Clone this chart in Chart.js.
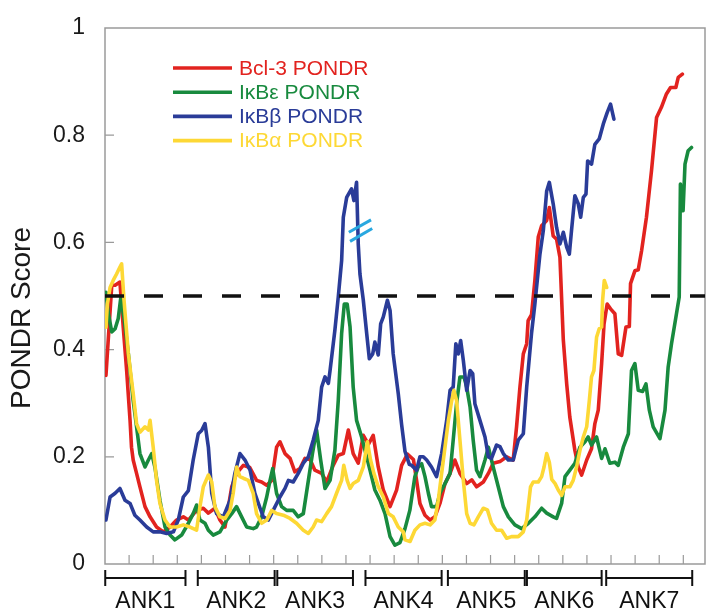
<!DOCTYPE html>
<html>
<head>
<meta charset="utf-8">
<script src="https://cdn.jsdelivr.net/npm/chart.js@4.4.1/dist/chart.umd.min.js"></script>
<style>
    html, body { margin: 0; padding: 0; background: #fff; }
    #wrap { width: 709px; height: 614px; }
</style>
</head>
<body>
<div id="wrap"><canvas id="pondrChart" width="709" height="614"></canvas></div>
<script>
// residue position (x) and PONDR score (y)
const bcl3 = [
    [0.4, 0.352], [2.8, 0.52], [4.2, 0.52], [6.2, 0.526], [7.6, 0.44], [9, 0.36], [10.4, 0.268], [11, 0.218],
    [11.7, 0.194], [13.1, 0.169], [14.5, 0.144], [16.6, 0.107], [18.7, 0.088], [21.4, 0.069], [24.2, 0.06],
    [27, 0.069], [29.7, 0.082], [32.5, 0.088], [34.6, 0.082], [38, 0.1], [40.8, 0.104], [42.9, 0.095],
    [45.6, 0.104], [47.7, 0.082], [49.8, 0.069], [52.6, 0.144], [54.6, 0.169], [57.4, 0.184], [60.1, 0.18],
    [62.9, 0.156], [65, 0.153], [67.1, 0.147], [69.2, 0.156], [71.2, 0.218], [72.6, 0.228], [74.7, 0.206],
    [76.8, 0.197], [78.8, 0.172], [80.9, 0.178], [83, 0.197], [85.1, 0.195], [87.1, 0.175], [89.9, 0.169],
    [92, 0.153], [94.7, 0.184], [96.8, 0.203], [98.9, 0.206], [101, 0.25], [103, 0.206], [105.1, 0.188],
    [107.2, 0.24], [109.3, 0.223], [111.3, 0.24], [113.4, 0.181], [115.5, 0.138], [118.3, 0.107], [121, 0.138],
    [123.1, 0.184], [125.5, 0.205], [128, 0.195], [129.3, 0.156], [130.7, 0.113], [132.8, 0.091], [134.9, 0.082],
    [136.9, 0.088], [139, 0.113], [141.1, 0.15], [143.2, 0.169], [145.2, 0.194], [147.3, 0.169], [150.1, 0.15],
    [152.2, 0.157], [154.2, 0.144], [157, 0.153], [159.1, 0.169], [161.1, 0.188], [163.9, 0.191], [166.7, 0.2],
    [169.4, 0.194], [170.8, 0.256], [172.2, 0.33], [173.6, 0.392], [175, 0.411], [175.6, 0.454], [177, 0.465],
    [178.4, 0.529], [179.8, 0.61], [181.2, 0.631], [183.3, 0.641], [184.4, 0.665], [186, 0.612], [187.4, 0.606],
    [188.8, 0.572], [190.2, 0.418], [191.6, 0.336], [192.9, 0.274], [195, 0.212], [196.4, 0.181], [197.8, 0.166],
    [199.9, 0.194], [201.9, 0.215], [203.3, 0.262], [204.7, 0.287], [206.1, 0.374], [207.1, 0.448], [208.4, 0.485],
    [209.8, 0.476], [211.6, 0.467], [213, 0.392], [214.4, 0.389], [216.2, 0.442], [217.6, 0.443], [218.1, 0.523],
    [219.9, 0.547], [221.3, 0.549], [222.7, 0.585], [224.7, 0.647], [226.8, 0.734], [228.9, 0.833], [230.9, 0.852],
    [233, 0.877], [234.7, 0.889], [236.9, 0.889], [237.9, 0.908], [239.6, 0.914]
];

const ikbEpsilon = [
    [0.4, 0.507], [1.4, 0.467], [2.8, 0.433], [4.2, 0.439], [5.5, 0.458], [6.5, 0.495], [7.9, 0.46], [9.7, 0.392],
    [11.7, 0.305], [13.1, 0.256], [14.5, 0.206], [16.6, 0.181], [18, 0.194], [19.4, 0.206], [20.7, 0.181],
    [22.8, 0.119], [24.9, 0.069], [27, 0.054], [29, 0.045], [31.8, 0.054], [34.6, 0.076], [36.6, 0.094],
    [38, 0.11], [39.4, 0.082], [41.5, 0.076], [42.9, 0.063], [44.9, 0.054], [47.7, 0.06], [50.5, 0.082],
    [52.6, 0.094], [54.6, 0.107], [56.7, 0.088], [58.8, 0.069], [61.5, 0.066], [62.9, 0.069], [65, 0.088],
    [67.1, 0.125], [68.5, 0.156], [69.6, 0.178], [71.2, 0.132], [73.3, 0.107], [75.4, 0.1], [78.1, 0.1],
    [80.2, 0.088], [82.3, 0.094], [84.4, 0.156], [86.1, 0.206], [87.8, 0.25], [89.5, 0.194], [91.3, 0.141],
    [93.4, 0.156], [95.4, 0.212], [96.8, 0.305], [98.2, 0.43], [99.3, 0.485], [100.5, 0.485], [101.7, 0.442],
    [103, 0.33], [104.4, 0.268], [106.5, 0.237], [107.9, 0.212], [110, 0.175], [112, 0.138], [114.1, 0.119],
    [116.2, 0.094], [118.3, 0.051], [120.3, 0.035], [122.4, 0.04], [124.5, 0.066], [126.5, 0.1], [128.6, 0.163],
    [130, 0.181], [131.4, 0.187], [132.8, 0.163], [134.2, 0.132], [135.5, 0.107], [137.6, 0.107], [139, 0.132],
    [141.1, 0.15], [143.2, 0.169], [144.5, 0.231], [145.9, 0.299], [147.3, 0.349], [149, 0.349], [150.1, 0.33],
    [151.5, 0.293], [152.8, 0.231], [154.2, 0.175], [155.6, 0.163], [157.7, 0.194], [159.1, 0.218], [161.1, 0.181],
    [163.2, 0.144], [165.3, 0.107], [167.4, 0.088], [170.1, 0.073], [172.9, 0.066], [175.7, 0.076], [178.4, 0.088],
    [181.2, 0.104], [183.3, 0.095], [186, 0.088], [187.4, 0.085], [189.5, 0.113], [190.9, 0.163], [192.9, 0.175],
    [195, 0.188], [197.1, 0.218], [199.2, 0.228], [200.5, 0.237], [201.9, 0.222], [204, 0.237], [206.1, 0.197],
    [207.5, 0.215], [209.5, 0.188], [211.6, 0.19], [213, 0.184], [215.1, 0.218], [217.2, 0.243], [218.5, 0.361],
    [219.9, 0.374], [221.3, 0.324], [223.1, 0.322], [224.5, 0.336], [225.9, 0.287], [227.5, 0.256], [230.3, 0.234],
    [232.4, 0.287], [233.7, 0.367], [235.1, 0.411], [236.9, 0.46], [238.3, 0.498], [238.8, 0.709], [239.9, 0.659],
    [240.7, 0.746], [242, 0.771], [243.4, 0.777]
];

const ikbBeta = [
    [0.4, 0.082], [2.1, 0.125], [4.2, 0.132], [6.2, 0.141], [8.3, 0.119], [10.4, 0.113], [12.4, 0.091],
    [14.5, 0.082], [17.3, 0.069], [20, 0.06], [22.8, 0.06], [25.6, 0.057], [28.4, 0.06], [30.4, 0.082],
    [32.5, 0.125], [34.6, 0.137], [36.6, 0.194], [38.7, 0.243], [40.1, 0.249], [41.5, 0.262], [42.9, 0.218],
    [44.3, 0.132], [46.3, 0.094], [49.1, 0.088], [51.9, 0.119], [53.9, 0.169], [56, 0.206], [58.1, 0.194],
    [60.2, 0.175], [62.2, 0.132], [64.3, 0.105], [65.7, 0.088], [67.8, 0.082], [69.8, 0.1], [72.6, 0.125],
    [74.7, 0.141], [76.1, 0.156], [78.1, 0.153], [80.2, 0.169], [82.3, 0.188], [84.4, 0.2], [86.4, 0.231],
    [88.5, 0.268], [89.9, 0.33], [91.3, 0.349], [92.7, 0.337], [93.4, 0.361], [95.4, 0.436], [96.8, 0.498],
    [98.2, 0.566], [98.9, 0.647], [100.3, 0.684], [102.3, 0.7], [103.3, 0.678], [104.4, 0.712], [105.1, 0.597],
    [105.8, 0.541], [107.2, 0.492], [108.6, 0.43], [109.7, 0.383], [111.1, 0.392], [112, 0.414], [113.4, 0.39],
    [114.4, 0.448], [115.5, 0.461], [117.2, 0.492], [118.3, 0.473], [119.6, 0.392], [121.7, 0.318], [123.1, 0.26],
    [124.5, 0.21], [126.3, 0.186], [127.3, 0.184], [129.3, 0.175], [130.7, 0.2], [132.1, 0.2], [133.5, 0.194],
    [135.5, 0.181], [137.6, 0.163], [139.7, 0.206], [141.8, 0.268], [143.2, 0.324], [144.5, 0.33], [145.6, 0.411],
    [146.6, 0.392], [147.6, 0.417], [148.7, 0.38], [150.1, 0.324], [151.5, 0.361], [152.6, 0.355], [153.5, 0.299],
    [155.6, 0.268], [157.7, 0.237], [159.1, 0.2], [160.4, 0.197], [162.5, 0.222], [163.9, 0.219], [165.3, 0.206],
    [167.4, 0.194], [169.4, 0.194], [171.5, 0.231], [173.6, 0.243], [175, 0.33], [177, 0.43], [178.4, 0.485],
    [180.5, 0.578], [181.9, 0.622], [183.3, 0.696], [184.4, 0.712], [186, 0.672], [187.4, 0.628], [188.8, 0.597],
    [190.2, 0.619], [191.6, 0.591], [192.7, 0.578], [193.6, 0.622], [195, 0.687], [196.4, 0.672], [197.4, 0.647],
    [198.5, 0.684], [199.6, 0.69], [200.3, 0.752], [201.9, 0.746], [203.3, 0.783], [205.1, 0.793], [206.8, 0.821],
    [208.4, 0.842], [209.8, 0.858], [211.2, 0.83]
];

const ikbAlpha = [
    [0.4, 0.442], [1, 0.485], [2.1, 0.516], [3.4, 0.529], [4.8, 0.541], [6.2, 0.554], [6.9, 0.56], [7.9, 0.492],
    [9.7, 0.392], [11.7, 0.318], [13.1, 0.262], [14.5, 0.246], [16.6, 0.256], [18, 0.25], [18.7, 0.268], [20, 0.218],
    [21.4, 0.156], [22.8, 0.113], [24.9, 0.082], [27, 0.069], [29.7, 0.069], [32.5, 0.073], [35.3, 0.069],
    [38, 0.063], [39.4, 0.107], [40.8, 0.144], [42.9, 0.166], [44.3, 0.153], [45.6, 0.107], [47.7, 0.088],
    [49.8, 0.085], [51.9, 0.1], [53.2, 0.132], [54.6, 0.181], [56, 0.163], [57.4, 0.16], [59.5, 0.156],
    [61.5, 0.132], [62.9, 0.094], [65, 0.076], [67.1, 0.082], [69.2, 0.1], [71.2, 0.094], [74, 0.091],
    [76.8, 0.085], [79.5, 0.076], [82.3, 0.063], [84.4, 0.057], [86.4, 0.069], [87.8, 0.082], [89.9, 0.079],
    [92, 0.094], [94, 0.107], [96.1, 0.132], [98.2, 0.156], [99.1, 0.184], [100.5, 0.156], [101.7, 0.141],
    [103, 0.15], [105.1, 0.156], [107.2, 0.181], [108.9, 0.228], [110.2, 0.194], [111.6, 0.169], [113.4, 0.144],
    [115.5, 0.125], [117.6, 0.094], [119.6, 0.088], [121.7, 0.069], [123.8, 0.06], [124.5, 0.045], [126.6, 0.042],
    [128.6, 0.063], [130.7, 0.073], [132.8, 0.076], [134.9, 0.073], [136.9, 0.082], [138.3, 0.119], [139.7, 0.169],
    [141.1, 0.218], [142.5, 0.268], [143.9, 0.305], [144.8, 0.324], [145.9, 0.305], [147.3, 0.231], [148.7, 0.156],
    [150.1, 0.094], [151.5, 0.076], [153.1, 0.073], [154.9, 0.088], [157, 0.104], [158.7, 0.101], [160.4, 0.076],
    [162.5, 0.063], [164.6, 0.063], [166.7, 0.048], [168.7, 0.051], [171.5, 0.051], [173.6, 0.06], [175, 0.082],
    [176.6, 0.144], [177.7, 0.153], [179.8, 0.153], [181.2, 0.163], [182.2, 0.181], [183.3, 0.206], [184.4, 0.19],
    [185.4, 0.158], [186.8, 0.15], [188.1, 0.138], [189.5, 0.128], [190.9, 0.144], [192.9, 0.144], [194.3, 0.156],
    [195.7, 0.181], [197.1, 0.212], [198.5, 0.237], [199.9, 0.256], [201, 0.305], [201.9, 0.349], [202.9, 0.361],
    [204, 0.423], [205.1, 0.439], [206.1, 0.442], [206.5, 0.492], [207.2, 0.529], [208.2, 0.516]
];

const seriesNames = ["Bcl-3 PONDR", "I\u03baB\u03b5 PONDR", "I\u03baB\u03b2 PONDR", "I\u03baB\u03b1 PONDR"];
const seriesColors = ["#e2231f", "#188a3e", "#2a3c98", "#fdd835"];

const threshold = 0.5;
const yTicks = [0, 0.2, 0.4, 0.6, 0.8, 1];

// ankyrin repeat spans along the residue axis
const ankLabels = ["ANK1", "ANK2", "ANK3", "ANK4", "ANK5", "ANK6", "ANK7"];
const ankStart = [0.1, 38.5, 71.5, 108.1, 142.3, 175.1, 208];
const ankEnd = [33.4, 70.4, 102.9, 139.7, 174.2, 206.1, 243.7];

// "//" break marks on the IκBβ peak
const breakMarks = [
    [[101.2, 0.619], [110.4, 0.642]],
    [[101.7, 0.602], [110.9, 0.626]]
];

const FONT = "'Liberation Sans', Arial, Helvetica, sans-serif";

document.addEventListener("DOMContentLoaded", () => {
    const ctx = document.getElementById("pondrChart").getContext("2d");

    const toPoints = (arr) => arr.map(([x, y]) => ({ x, y }));

    const lineDs = (idx, arr, order) => ({
        label: seriesNames[idx],
        data: toPoints(arr),
        borderColor: seriesColors[idx],
        backgroundColor: seriesColors[idx],
        borderWidth: 3.6,
        pointRadius: 0,
        tension: 0,
        borderJoinStyle: "round",
        borderCapStyle: "round",
        order: order,
    });

    const framePlugin = {
        id: "frame",
        beforeDatasetsDraw(chart) {
            const { ctx, chartArea: a, scales } = chart;
            ctx.save();
            ctx.strokeStyle = "#9a9a9a";
            ctx.lineWidth = 1.5;
            ctx.strokeRect(a.left, a.top, a.right - a.left, a.bottom - a.top);

            ctx.lineWidth = 1.2;
            ctx.beginPath();
            for (let v = 10; v <= 240; v += 10) {
                const px = scales.x.getPixelForValue(v);
                ctx.moveTo(px, a.bottom);
                ctx.lineTo(px, a.bottom - 9);
            }
            yTicks.slice(1, -1).forEach((v) => {
                const py = scales.y.getPixelForValue(v);
                ctx.moveTo(a.left, py);
                ctx.lineTo(a.left + 9, py);
            });
            ctx.stroke();

            // y axis title, sitting a bit below the axis centre as in the figure
            ctx.fillStyle = "#1a1a1a";
            ctx.font = `28px ${FONT}`;
            ctx.textAlign = "center";
            ctx.textBaseline = "middle";
            ctx.translate(22, 318);
            ctx.rotate(-Math.PI / 2);
            ctx.fillText("PONDR Score", 0, 0);
            ctx.restore();
        },
        afterDraw(chart) {
            const { ctx, scales } = chart;
            const xs = scales.x, ys = scales.y;
            ctx.save();

            // break marks
            ctx.strokeStyle = "#29a8e0";
            ctx.lineWidth = 3;
            ctx.lineCap = "butt";
            breakMarks.forEach(([p0, p1]) => {
                ctx.beginPath();
                ctx.moveTo(xs.getPixelForValue(p0[0]), ys.getPixelForValue(p0[1]));
                ctx.lineTo(xs.getPixelForValue(p1[0]), ys.getPixelForValue(p1[1]));
                ctx.stroke();
            });

            // legend
            ctx.font = `21px ${FONT}`;
            ctx.textBaseline = "middle";
            ctx.textAlign = "left";
            seriesNames.forEach((name, i) => {
                const y = 68 + i * 24.2;
                ctx.strokeStyle = seriesColors[i];
                ctx.lineWidth = 3.6;
                ctx.beginPath();
                ctx.moveTo(173, y);
                ctx.lineTo(232, y);
                ctx.stroke();
                ctx.fillStyle = seriesColors[i];
                ctx.fillText(name, 239, y + 1);
            });

            // ANK brackets
            const by = 578;
            ctx.strokeStyle = "#111";
            ctx.fillStyle = "#111";
            ctx.lineWidth = 2;
            ctx.font = `23px ${FONT}`;
            ctx.textAlign = "center";
            ankLabels.forEach((lab, i) => {
                const x0 = xs.getPixelForValue(ankStart[i]);
                const x1 = xs.getPixelForValue(ankEnd[i]);
                ctx.beginPath();
                ctx.moveTo(x0, by);
                ctx.lineTo(x1, by);
                ctx.moveTo(x0, by - 8);
                ctx.lineTo(x0, by + 8);
                ctx.moveTo(x1, by - 8);
                ctx.lineTo(x1, by + 8);
                ctx.stroke();
                ctx.fillText(lab, (x0 + x1) / 2, 602);
            });
            ctx.restore();
        },
    };

    new Chart(ctx, {
        type: "line",
        data: {
            datasets: [
                {
                    label: "threshold",
                    data: [{ x: 0, y: threshold }, { x: 249, y: threshold }],
                    borderColor: "#111",
                    borderWidth: 3.5,
                    borderDash: [19, 20],
                    pointRadius: 0,
                    order: 0,
                },
                lineDs(0, bcl3, 4),
                lineDs(1, ikbEpsilon, 3),
                lineDs(2, ikbBeta, 2),
                lineDs(3, ikbAlpha, 1),
            ],
        },
        options: {
            responsive: false,
            animation: false,
            devicePixelRatio: 1,
            layout: { padding: { top: 28, right: 4, bottom: 0, left: 0 } },
            plugins: {
                legend: { display: false },
                tooltip: { enabled: false },
            },
            scales: {
                x: {
                    type: "linear",
                    min: 0,
                    max: 249,
                    grid: { display: false },
                    border: { display: false },
                    ticks: { display: false },
                    afterFit: (scale) => { scale.height = 50; },
                },
                y: {
                    min: 0,
                    max: 1,
                    afterBuildTicks: (scale) => {
                        scale.ticks = yTicks.map((v) => ({ value: v }));
                    },
                    grid: { display: false },
                    border: { display: false },
                    ticks: {
                        padding: 12,
                        color: "#1a1a1a",
                        font: { family: FONT, size: 23 },
                        callback: (v) => String(v),
                    },
                    afterFit: (scale) => { scale.width = 105; },
                },
            },
        },
        plugins: [framePlugin],
    });
});
</script>
</body>
</html>
